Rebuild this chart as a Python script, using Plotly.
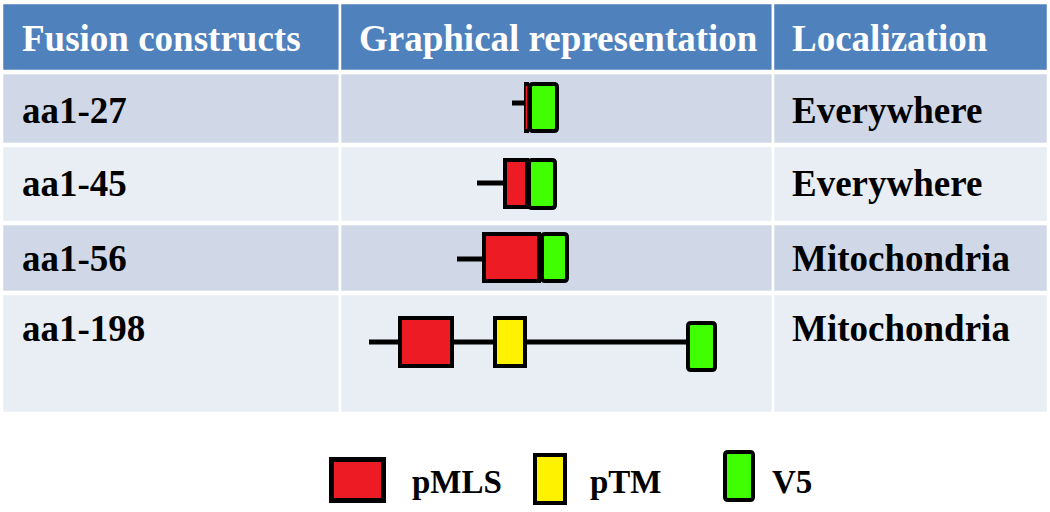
import plotly.graph_objects as go

# ---- data ----
headers = ["Fusion constructs", "Graphical representation", "Localization"]
constructs = ["aa1-27", "aa1-45", "aa1-56", "aa1-198"]
localization = ["Everywhere", "Everywhere", "Mitochondria", "Mitochondria"]
legend_labels = ["pMLS", "pTM", "V5"]

# diagram coordinates (schematic units along the construct)
backbone_start = [512, 477, 457, 369]
backbone_end = [525, 503, 482, 686]
pmls_start = [524, 503, 482, 398]
pmls_end = [529, 529, 541, 454]
ptm_start = [None, None, None, 493]
ptm_end = [None, None, None, 527]
v5_start = [528, 527, 540, 686]
v5_end = [559, 557, 569, 717]

# ---- styles / layout ----
W, H = 1050, 512
HEADER_C = "#4F81BD"
DARK_C = "#D0D8E8"
LIGHT_C = "#E9EDF4"
RED = "#ED1C24"
YEL = "#FFF200"
GRN = "#40FF00"
FONT = "Liberation Serif"

col_edges = [2, 340, 773, 1048]
row_edges = [(3, 71), (73, 144), (146, 222), (224, 292), (294, 413)]
row_fill = [HEADER_C, DARK_C, LIGHT_C, DARK_C, LIGHT_C]
row_text_y = [38, 110, 183, 258, 328]
box_y = [(82, 133), (158, 209), (232, 283), (316, 368)]
v5_y = [(82, 133), (158, 210), (232, 283), (321, 372)]
backbone_y = [103, 183, 259, 342]

shapes = []
for r, (y0, y1) in enumerate(row_edges):
    for c in range(3):
        shapes.append(dict(type="rect", xref="x", yref="y",
                           x0=col_edges[c], x1=col_edges[c + 1], y0=y0, y1=y1,
                           fillcolor=row_fill[r], line=dict(color="white", width=2.5),
                           layer="below"))


def rrect_path(x0, y0, x1, y1, r):
    return (f"M {x0+r},{y0} L {x1-r},{y0} Q {x1},{y0} {x1},{y0+r} "
            f"L {x1},{y1-r} Q {x1},{y1} {x1-r},{y1} L {x0+r},{y1} "
            f"Q {x0},{y1} {x0},{y1-r} L {x0},{y0+r} Q {x0},{y0} {x0+r},{y0} Z")


def box(x0, x1, y0, y1, color, rounded=False, b=4):
    bx = min(b, (x1 - x0) / 3)
    if rounded:
        shapes.append(dict(type="path", xref="x", yref="y",
                           path=rrect_path(x0, y0, x1, y1, 5),
                           fillcolor="black", line=dict(width=0)))
        shapes.append(dict(type="path", xref="x", yref="y",
                           path=rrect_path(x0 + bx, y0 + b, x1 - bx, y1 - b, 1),
                           fillcolor=color, line=dict(width=0)))
    else:
        shapes.append(dict(type="rect", xref="x", yref="y", x0=x0, x1=x1, y0=y0, y1=y1,
                           fillcolor="black", line=dict(width=0)))
        shapes.append(dict(type="rect", xref="x", yref="y", x0=x0 + bx, x1=x1 - bx,
                           y0=y0 + b, y1=y1 - b, fillcolor=color, line=dict(width=0)))


for i in range(len(constructs)):
    shapes.append(dict(type="line", xref="x", yref="y",
                       x0=backbone_start[i], x1=backbone_end[i],
                       y0=backbone_y[i], y1=backbone_y[i],
                       line=dict(color="black", width=5)))
    box(pmls_start[i], pmls_end[i], *box_y[i], RED)
    if ptm_start[i] is not None:
        box(ptm_start[i], ptm_end[i], *box_y[i], YEL)
    box(v5_start[i], v5_end[i], *v5_y[i], GRN, rounded=True)

# legend
box(329, 386, 457, 503, RED, b=5)
box(533, 567, 453, 505, YEL, b=4)
box(723, 755, 450, 502, GRN, rounded=True, b=4)

annotations = []
hx = [20, 357, 790]
for c, h in enumerate(headers):
    annotations.append(dict(x=hx[c], y=row_text_y[0], text=h, xref="x", yref="y",
                            xanchor="left", yanchor="middle", showarrow=False,
                            font=dict(family=FONT, size=37, color="white", weight="bold")))
for i in range(len(constructs)):
    annotations.append(dict(x=20, y=row_text_y[i + 1], text=constructs[i], xref="x", yref="y",
                            xanchor="left", yanchor="middle", showarrow=False,
                            font=dict(family=FONT, size=37, color="black", weight="bold")))
    annotations.append(dict(x=790, y=row_text_y[i + 1], text=localization[i], xref="x", yref="y",
                            xanchor="left", yanchor="middle", showarrow=False,
                            font=dict(family=FONT, size=37, color="black", weight="bold")))
leg_x = [410, 588, 770]
for k, lab in enumerate(legend_labels):
    annotations.append(dict(x=leg_x[k], y=482, text=lab, xref="x", yref="y",
                            xanchor="left", yanchor="middle", showarrow=False,
                            font=dict(family=FONT, size=33, color="black", weight="bold")))

fig = go.Figure()
fig.update_layout(width=W, height=H, margin=dict(l=0, r=0, t=0, b=0),
                  paper_bgcolor="white", plot_bgcolor="white",
                  xaxis=dict(range=[0, W], visible=False, fixedrange=True),
                  yaxis=dict(range=[H, 0], visible=False, fixedrange=True),
                  shapes=shapes, annotations=annotations, showlegend=False)
fig.write_html("out.html", config={"displayModeBar": False},
               post_script="document.body.style.margin='0';document.body.style.overflow='hidden';")
